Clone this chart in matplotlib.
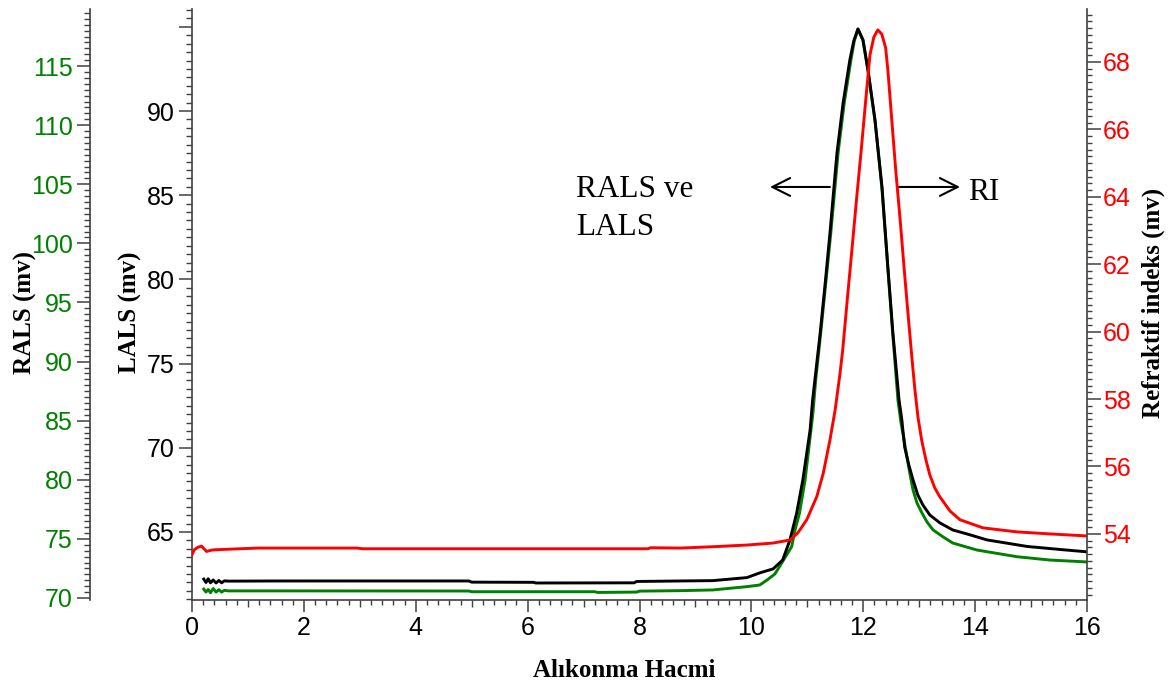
import matplotlib
matplotlib.use("Agg")
import matplotlib.pyplot as plt
from matplotlib.ticker import MultipleLocator, FixedLocator, NullFormatter, FuncFormatter

# data
# LALS (black, main left axis)
lals_x = [0.21, 0.25, 0.29, 0.33, 0.38, 0.43, 0.48, 0.53, 0.58, 0.65, 1.5, 4.95, 5.0,
          6.1, 6.15, 7.9, 7.95, 8.72, 9.31, 9.92, 10.15, 10.39, 10.56, 10.69, 10.81,
          10.92, 11.05, 11.095, 11.23, 11.32, 11.405, 11.53, 11.64, 11.76, 11.83, 11.905,
          11.995, 12.085, 12.21, 12.335, 12.44, 12.53, 12.64, 12.69, 12.74, 12.815, 12.89,
          12.975, 13.065, 13.19, 13.37, 13.60, 13.91, 14.21, 14.93, 15.52, 16.0]
lals_y = [62.2, 62.0, 62.22, 61.98, 62.15, 61.97, 62.12, 61.98, 62.1, 62.08, 62.09, 62.09, 62.02,
          62.01, 61.97, 61.98, 62.06, 62.09, 62.11, 62.29, 62.57, 62.81, 63.34, 64.53, 66.13,
          68.09, 71.06, 72.84, 76.82, 79.79, 82.76, 87.51, 90.48, 93.03, 94.16, 94.87,
          94.22, 92.44, 89.47, 85.49, 80.74, 76.82, 72.84, 71.65, 70.05, 68.98, 68.09,
          67.20, 66.61, 66.01, 65.54, 65.12, 64.83, 64.53, 64.14, 63.96, 63.82]

# RALS (green, outer left axis)
rals_x = [0.21, 0.25, 0.29, 0.33, 0.38, 0.43, 0.48, 0.53, 0.58, 0.65, 1.5, 4.95, 5.0,
          7.2, 7.25, 7.95, 8.0, 8.72, 9.31, 9.92, 10.15, 10.28, 10.42, 10.54, 10.72,
          10.78, 10.86, 10.96, 11.03, 11.10, 11.15, 11.24, 11.33, 11.42, 11.55, 11.66,
          11.78, 11.84, 11.905, 11.995, 12.085, 12.21, 12.335, 12.44, 12.53, 12.62, 12.675,
          12.73, 12.78, 12.835, 12.89, 12.96, 13.05, 13.14, 13.25, 13.43, 13.60, 14.03,
          14.75, 15.34, 16.0]
rals_y = [70.75, 70.5, 70.72, 70.45, 70.8, 70.5, 70.7, 70.5, 70.65, 70.6, 70.6, 70.59, 70.53,
          70.53, 70.47, 70.5, 70.58, 70.62, 70.68, 70.96, 71.10, 71.52, 72.03, 72.94, 74.34,
          75.75, 77.17, 79.98, 82.80, 85.63, 88.44, 92.42, 96.65, 100.88, 107.65, 111.88,
          115.52, 117.12, 118.14, 117.21, 114.59, 110.36, 104.60, 97.83, 92.17, 86.75, 84.81,
          83.37, 81.93, 80.49, 79.14, 78.04, 77.19, 76.43, 75.75, 75.16, 74.65, 74.06,
          73.49, 73.21, 73.05]

# Refraktif indeks (red, right axis)
ri_x = [0.0, 0.04, 0.10, 0.17, 0.22, 0.26, 0.35, 0.41, 0.70, 1.18, 2.95, 3.05, 8.15, 8.2,
        8.72, 9.31, 9.92, 10.39, 10.69, 10.83, 10.99, 11.17, 11.285, 11.405, 11.495, 11.584,
        11.633, 11.714, 11.797, 11.879, 11.959, 12.04, 12.12, 12.19, 12.26, 12.33, 12.40,
        12.44, 12.51, 12.58, 12.66, 12.73, 12.80, 12.87, 12.92, 12.98, 13.05, 13.12, 13.19,
        13.28, 13.37, 13.55, 13.73, 14.14, 14.75, 15.34, 16.0]
ri_y = [53.38, 53.53, 53.60, 53.64, 53.55, 53.48, 53.52, 53.53, 53.55, 53.58, 53.58, 53.56,
        53.56, 53.59, 53.58, 53.62, 53.67, 53.73, 53.82, 54.03, 54.42, 55.11, 55.80, 56.79,
        57.65, 58.75, 59.46, 60.94, 62.42, 63.91, 65.30, 66.79, 68.21, 68.74, 68.95, 68.83,
        68.42, 67.76, 66.28, 64.80, 63.31, 61.89, 60.53, 59.22, 58.33, 57.44, 56.73, 56.20,
        55.75, 55.36, 55.10, 54.68, 54.42, 54.18, 54.06, 54.00, 53.94]

GREEN = "#008000"
RED = "#ff0000"
SPINE = "#404040"

plt.rcParams["font.family"] = ["Liberation Sans", "DejaVu Sans"]
serif = ["Liberation Serif", "DejaVu Serif"]

fig = plt.figure(figsize=(11.75, 6.86), dpi=100)
ax = fig.add_axes([192 / 1175, 86 / 686, 895 / 1175, 591 / 686])
ax_g = ax.twinx()
ax_r = ax.twinx()
ax_g.set_zorder(1)
ax.set_zorder(2)
ax_r.set_zorder(3)
ax.patch.set_visible(False)

ax_g.plot(rals_x, rals_y, color=GREEN, lw=2.1)
ax.plot(lals_x, lals_y, color="black", lw=2.1)
ax_r.plot(ri_x, ri_y, color=RED, lw=2.1)

ax.set_xlim(0, 16)
ax.set_ylim(60.96, 96.06)
ax_g.set_ylim(69.83, 119.83)
ax_r.set_ylim(52.04, 69.57)

# spines
for s in ["top", "right"]:
    ax.spines[s].set_visible(False)
for s in ["top", "right", "bottom"]:
    ax_g.spines[s].set_visible(False)
for s in ["top", "left", "bottom"]:
    ax_r.spines[s].set_visible(False)
ax_g.spines["left"].set_visible(True)
ax_g.spines["left"].set_position(("axes", -102 / 895))
ax_g.yaxis.tick_left()
ax_g.yaxis.set_label_position("left")
for a in (ax, ax_g, ax_r):
    for sp in a.spines.values():
        sp.set_color(SPINE)
        sp.set_linewidth(1.2)

# x axis ticks
ax.xaxis.set_major_locator(MultipleLocator(2))
ax.xaxis.set_minor_locator(FixedLocator([i / 5 for i in range(81) if i % 5 != 0]))
ax.tick_params(axis="x", which="major", direction="out", length=8.6, width=1.1,
               color=SPINE, labelsize=18, pad=3)
ax.tick_params(axis="x", which="minor", direction="out", length=3.6, width=1.0, color=SPINE)
sec = ax.secondary_xaxis("bottom")
sec.set_xticks(list(range(1, 16, 2)))
sec.xaxis.set_major_formatter(NullFormatter())
sec.tick_params(axis="x", direction="out", length=5.2, width=1.0, color=SPINE)
sec.spines["bottom"].set_visible(False)

# LALS axis (the top tick at 95 carries no label in the original)
ax.yaxis.set_major_locator(MultipleLocator(5))
ax.yaxis.set_minor_locator(MultipleLocator(0.5))
ax.yaxis.set_major_formatter(FuncFormatter(lambda v, p: "" if v > 92.5 else f"{v:g}"))
ax.tick_params(axis="y", which="major", direction="out", length=9.4, width=1.1,
               color=SPINE, labelsize=18, pad=3, labelcolor="black")
ax.tick_params(axis="y", which="minor", direction="out", length=4.0, width=1.0, color=SPINE)

# RALS axis
ax_g.yaxis.set_major_locator(MultipleLocator(5))
ax_g.yaxis.set_minor_locator(MultipleLocator(0.5))
ax_g.tick_params(axis="y", which="major", direction="out", length=9.4, width=1.1,
                 color=SPINE, labelsize=18, pad=3, labelcolor=GREEN)
ax_g.tick_params(axis="y", which="minor", direction="out", length=4.0, width=1.0, color=SPINE)

# RI axis
ax_r.yaxis.set_major_locator(MultipleLocator(2))
ax_r.yaxis.set_minor_locator(MultipleLocator(0.2))
ax_r.tick_params(axis="y", which="major", direction="out", length=10, width=1.1,
                 color=SPINE, labelsize=18, pad=1.5, labelcolor=RED)
ax_r.tick_params(axis="y", which="minor", direction="out", length=3.6, width=1.0, color=SPINE)

# axis labels
lab = dict(family=serif, fontweight="bold", fontsize=18)
ax.set_xlabel("Alıkonma Hacmi", va="baseline", **lab)
ax.xaxis.set_label_coords((624 - 192) / 895, (600 - 677) / 591)
ax.set_ylabel("LALS (mv)", va="center", **lab)
ax.yaxis.set_label_coords((130 - 192) / 895, (600 - 312) / 591)
ax_g.set_ylabel("RALS (mv)", va="center", **lab)
ax_g.yaxis.set_label_coords((25 - 192) / 895, (600 - 312) / 591)
ax_r.set_ylabel("Refraktif indeks (mv)", va="center", rotation=90, **lab)
ax_r.yaxis.set_label_coords((1153 - 192) / 895, (600 - 303) / 591)

# annotations
arrow = dict(arrowstyle="->, head_length=0.4, head_width=0.2", lw=1.5, color="black",
             mutation_scale=32, shrinkA=0, shrinkB=0)
ax.annotate("", xy=(10.333, 85.49), xytext=(11.405, 85.49), arrowprops=arrow)
ax.annotate("", xy=(13.73, 85.49), xytext=(12.62, 85.49), arrowprops=arrow)
ax.text(6.865, 82.64, "RALS ve\nLALS", family=serif, fontsize=22.5, va="baseline",
        ha="left", linespacing=1.4)
ax.text(13.87, 84.72, "RI", family=serif, fontsize=22.5, va="baseline", ha="left")

fig.savefig("out.png", dpi=100)
